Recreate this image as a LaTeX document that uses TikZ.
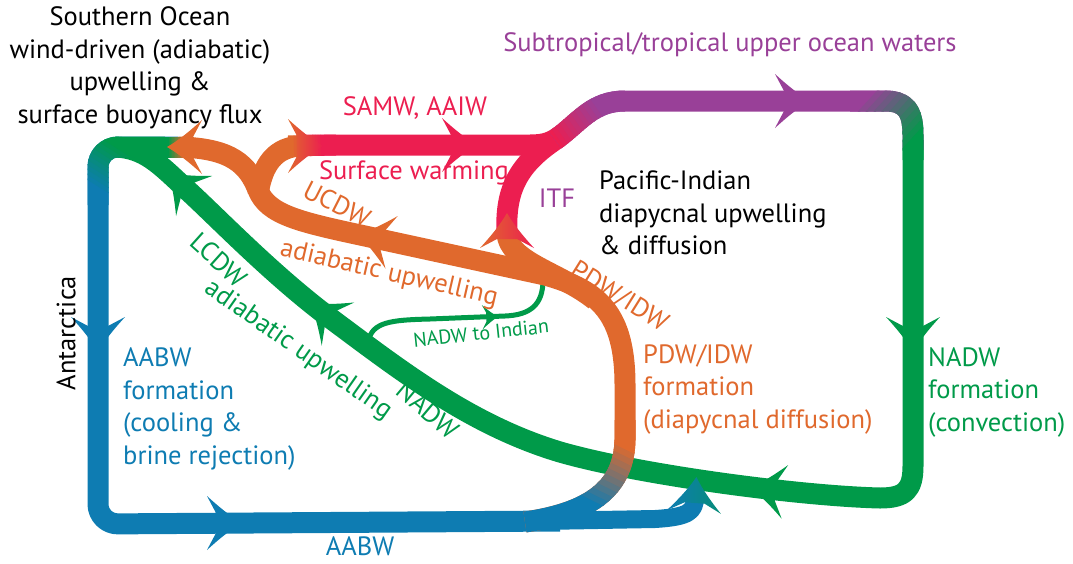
\documentclass[tikz,border=0pt]{standalone}
\usepackage{fontspec}
\setmainfont{PT Sans}
\usetikzlibrary{calc}

\definecolor{clrblue}{RGB}{14,124,178}
\definecolor{clrgreen}{RGB}{0,154,73}
\definecolor{clrorange}{RGB}{224,105,45}
\definecolor{clrpink}{RGB}{236,30,80}
\definecolor{clrpurple}{RGB}{153,64,152}

\tikzset{
  band/.style={line width=21pt, line join=round},
  thinband/.style={line width=5pt},
  flowfill/.style={fill},
  head/.style={flowfill/.style={fill=#1}},
  shadehead/.style 2 args={flowfill/.style={left color=#1, right color=#2}},
  flowhead/.pic={\path[flowfill] (20,0) .. controls (8,7) and (-3,16) .. (-15,27) -- (-6,10) -- (-6,-10) -- (-15,-27) .. controls (-3,-16) and (8,-7) .. (20,0) -- cycle;},
  lbl/.style={font=\fontsize{26.5}{32.5}\selectfont, inner sep=0pt},
}

% colour change along a band: #1 -> #2 between points #3 and #4
\newcommand{\blendband}[5]{%
  \foreach \k in {0,...,11}{%
    \pgfmathsetmacro{\ka}{ifthenelse(\k==0,-3,(\k-0.3)/12)}%
    \pgfmathsetmacro{\kb}{ifthenelse(\k==11,4,(\k+1)/12)}%
    \pgfmathtruncatemacro{\kmix}{100-\k*100/11}%
    \begin{scope}
      \path (#3) -- (#4) coordinate[pos=\ka] (ba) coordinate[pos=\kb] (bb);
      \clip ($(ba)!90pt!90:(bb)$) -- ($(ba)!90pt!-90:(bb)$) -- ($(bb)!90pt!90:(ba)$) -- ($(bb)!90pt!-90:(ba)$) -- cycle;
      \draw[band, #1!\kmix!#2] #5;
    \end{scope}}}

\begin{document}
\begin{tikzpicture}[x=1pt, y=-1pt]
\useasboundingbox (0,0) rectangle (1073,563);

% AABW loop
\draw[band, clrblue, rounded corners=20] (178,147) -- (98,147) -- (98,524) -- (560,521);
\pic[head=clrblue, rotate=-90] at (98,332) {flowhead};
\pic[head=clrblue] at (222,523) {flowhead};

% NADW
\draw[band, clrgreen] (913,140) -- (913,466) .. controls (913,490) and (905,498) .. (880,498)
  .. controls (800,496) and (640,475) .. (560,452) .. controls (470,425) and (400,370) .. (330,318)
  .. controls (270,273) and (215,215) .. (185,188) .. controls (160,165) and (145,148) .. (115,147);
\pic[head=clrgreen, rotate=-90] at (913,332) {flowhead};
\pic[head=clrgreen, rotate=173] at (770,490) {flowhead};
\pic[head=clrgreen, rotate=143] at (326,315) {flowhead};
\pic[head=clrgreen, rotate=138] at (183,186) {flowhead};
\blendband{clrblue}{clrgreen}{98,190}{125,147}{[rounded corners=20] (165,147) -- (98,147) -- (98,205)}

% NADW to Indian
\draw[thinband, clrgreen] (368,342) .. controls (372,322) and (390,320) .. (430,319) -- (505,316)
  .. controls (530,315) and (543,305) .. (543,280);
\pic[head=clrgreen, scale=0.45, rotate=2] at (489,317) {flowhead};

% SAMW, ITF and upper waters
\draw[band, clrpink] (507,233) .. controls (505,190) and (518,165) .. (555,140);
\draw[band, clrpink] (303,145) -- (530,145) .. controls (545,145) and (552,142) .. (560,136);
\draw[band, clrpurple] (555,140) .. controls (580,122) and (592,101) .. (625,101) -- (885,101)
  .. controls (905,101) and (913,110) .. (913,135) -- (913,150);
\blendband{clrpink}{clrpurple}{555,140}{603,106}{(555,140) .. controls (580,122) and (592,101) .. (625,101)}
\blendband{clrpurple}{clrgreen}{862,101}{913,148}{(850,101) -- (885,101) .. controls (905,101) and (913,110) .. (913,135) -- (913,160)}
\pic[head=clrpurple] at (790,101) {flowhead};
\pic[head=clrpink] at (457,145) {flowhead};

% PDW/IDW and UCDW
\draw[band, clrorange] (525,522) .. controls (595,512) and (624,485) .. (625,440) -- (625,385)
  .. controls (625,315) and (600,290) .. (545,275) -- (365,236)
  .. controls (300,222) and (268,215) .. (258,190) .. controls (248,165) and (232,148) .. (178,147);
\draw[band, clrorange] (258,195) .. controls (262,165) and (275,146) .. (303,146);
\draw[band, clrorange] (595,300) .. controls (560,272) and (508,262) .. (507,233);
\blendband{clrorange}{clrpink}{292,146}{324,145}{(288,146) -- (336,145)}
\blendband{clrgreen}{clrorange}{168,147}{186,147}{(158,147) -- (194,147)}
\blendband{clrblue}{clrorange}{592,505}{624,440}{(525,522) .. controls (595,512) and (624,485) .. (625,440) -- (625,420)}
\pic[head=clrorange, rotate=180] at (187,147) {flowhead};
\pic[shadehead={clrorange}{clrpink}] at (303,146) {flowhead};
\pic[head=clrorange, rotate=167] at (377,239) {flowhead};
\pic[shadehead={clrorange}{clrpink}, rotate=90] at (507,233) {flowhead};

% AABW to the north
\draw[band, line width=18pt, clrblue] (540,521) -- (655,519) .. controls (688,517) and (695,512) .. (695,497);
\pic[shadehead={clrblue}{clrblue!45!clrgreen}, rotate=86] at (695,497) {flowhead};

% labels
\node[lbl, align=center] (so) at (140,68) {Southern Ocean\\wind-driven (adiabatic)\\upwelling \&\\surface buoyancy flux};
\node[lbl, clrpink] (samw) at (415,108) {SAMW, AAIW};
\node[lbl, clrpink] (warm) at (414,173) {Surface warming};
\node[lbl, clrpurple] (stu) at (730,45) {Subtropical/tropical upper ocean waters};
\node[lbl, clrpurple] (itf) at (557,198) {ITF};
\node[lbl, align=left, anchor=west] (pacind) at (599,213) {Pacific-Indian\\diapycnal upwelling\\\& diffusion};
\node[lbl, clrorange, rotate=-27] (ucdw) at (337,204) {UCDW};
\node[lbl, clrorange, rotate=-13] (adupo) at (389,274) {adiabatic upwelling};
\node[lbl, clrorange, rotate=-32] (pdw) at (619,297) {PDW/IDW};
\node[lbl, clrorange, align=left, anchor=west] (pdwform) at (643,389) {PDW/IDW\\formation\\(diapycnal diffusion)};
\node[lbl, clrgreen, align=left, anchor=west] (nadwform) at (928,392) {NADW\\formation\\(convection)};
\node[lbl, clrblue, align=left, anchor=west] (aabwform) at (123,409) {AABW\\formation\\(cooling \&\\brine rejection)};
\node[lbl, clrblue] (aabw) at (360,546) {AABW};
\node[lbl, rotate=90] (ant) at (66,333) {Antarctica};
\node[lbl, clrgreen, rotate=-42] (lcdw) at (219,260) {LCDW};
\node[lbl, clrgreen, rotate=-35] (adupg) at (298,350) {adiabatic upwelling};
\node[lbl, clrgreen, rotate=-40] (nadw) at (428,410) {NADW};
\node[lbl, clrgreen, font=\fontsize{20}{24}\selectfont, rotate=6] (toind) at (481,333) {NADW to Indian};
\end{tikzpicture}
\end{document}
